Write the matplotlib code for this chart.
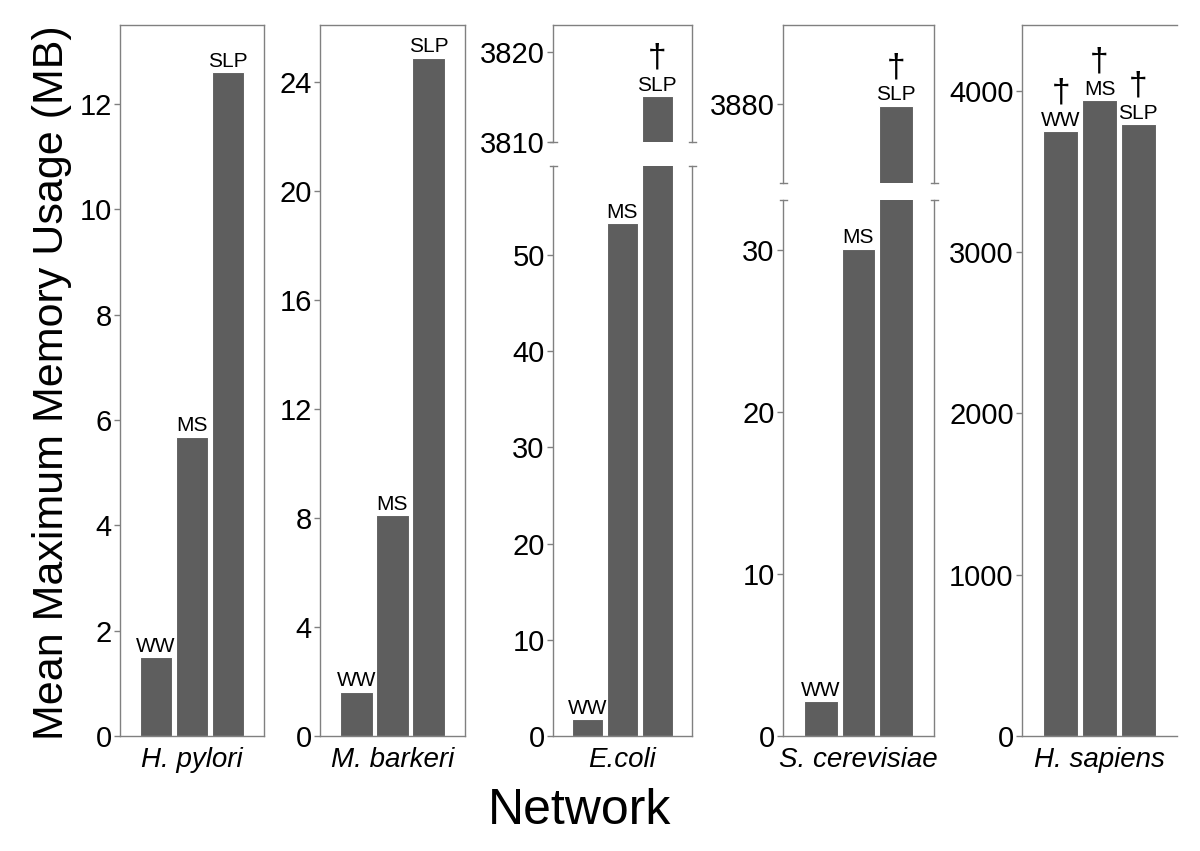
import matplotlib
matplotlib.use("Agg")
import matplotlib.pyplot as plt

plt.rcParams['font.family'] = ['Liberation Sans', 'DejaVu Sans']

# ---- data ----
networks = ["H. pylori", "M. barkeri", "E.coli", "S. cerevisiae", "H. sapiens"]
methods = ["WW", "MS", "SLP"]
hpylori = [1.5, 5.68, 12.6]
mbarkeri = [1.62, 8.1, 24.9]
ecoli = [1.75, 53.3, 3815.1]
scerevisiae = [2.15, 30.1, 3879.8]
hsapiens = [3752, 3944, 3795]

W, H = 1200, 851
fig = plt.figure(figsize=(W / 100, H / 100), dpi=100)

BAR = "#5e5e5e"
SPINE = "#808080"

def add_ax(x0, x1, ytop, ybot):
    return fig.add_axes([x0 / W, 1 - ybot / H, (x1 - x0) / W, (ybot - ytop) / H])

def style(ax, right=True, top=True, bottom=True):
    for s in ax.spines.values():
        s.set_color(SPINE)
        s.set_linewidth(1.0)
    ax.spines['right'].set_visible(right)
    ax.spines['top'].set_visible(top)
    ax.spines['bottom'].set_visible(bottom)
    ax.tick_params(axis='y', direction='out', length=4, width=1, color=SPINE,
                   labelsize=21, pad=2, labelcolor='black')
    ax.set_xticks([])
    ax.set_xlim(-1, 3)

def draw_bars(ax, vals):
    ax.bar(range(3), vals, width=0.9, color=BAR, edgecolor='white', linewidth=0.8)

def label(ax, i, v, text, dagger=False):
    ax.annotate(text, (i, v), xytext=(0, 1), textcoords='offset points',
                ha='center', va='bottom', fontsize=15, clip_on=False,
                annotation_clip=False)
    if dagger:
        ax.annotate("\u2020", (i, v), xytext=(0, 16), textcoords='offset points',
                    ha='center', va='bottom', fontsize=24,
                    annotation_clip=False)

def caps(ax, where):
    tr = ax.transAxes
    for xs in (0, 1):
        dx = 3.5 / (ax.get_position().width * W)
        ax.plot([xs - dx, xs + dx], [where, where], transform=tr, color=SPINE,
                lw=1.0, clip_on=False)

panels = [(120, 264), (320, 465), (553, 692), (783, 934), (1022, 1177)]
TOP, BOT = 25, 736

# Panel 1
ax = add_ax(*panels[0], TOP, BOT)
draw_bars(ax, hpylori)
ax.set_ylim(0, 13.5)
ax.set_yticks([0, 2, 4, 6, 8, 10, 12])
style(ax)
for i, m in enumerate(methods):
    label(ax, i, hpylori[i], m)

# Panel 2
ax = add_ax(*panels[1], TOP, BOT)
draw_bars(ax, mbarkeri)
ax.set_ylim(0, 26.1)
ax.set_yticks([0, 4, 8, 12, 16, 20, 24])
style(ax)
for i, m in enumerate(methods):
    label(ax, i, mbarkeri[i], m)

# Panel 3 (broken)
axu = add_ax(*panels[2], TOP, 142)
axl = add_ax(*panels[2], 166, BOT)
draw_bars(axu, ecoli)
draw_bars(axl, ecoli)
axu.set_ylim(3810, 3823)
axu.set_yticks([3810, 3820])
axl.set_ylim(0, 59.25)
axl.set_yticks([0, 10, 20, 30, 40, 50])
style(axu, bottom=False)
style(axl, top=False)
caps(axu, 0)
caps(axl, 1)
label(axl, 0, ecoli[0], "WW")
label(axl, 1, ecoli[1], "MS")
label(axu, 2, ecoli[2], "SLP", dagger=True)

# Panel 4 (broken)
axu = add_ax(*panels[3], TOP, 183)
axl = add_ax(*panels[3], 200, BOT)
draw_bars(axu, scerevisiae)
draw_bars(axl, scerevisiae)
axu.set_ylim(3870, 3890)
axu.set_yticks([3880])
axl.set_ylim(0, 33.1)
axl.set_yticks([0, 10, 20, 30])
style(axu, bottom=False)
style(axl, top=False)
caps(axu, 0)
caps(axl, 1)
label(axl, 0, scerevisiae[0], "WW")
label(axl, 1, scerevisiae[1], "MS")
label(axu, 2, scerevisiae[2], "SLP", dagger=True)

# Panel 5
ax = add_ax(*panels[4], TOP, BOT)
draw_bars(ax, hsapiens)
ax.set_ylim(0, 4409)
ax.set_yticks([0, 1000, 2000, 3000, 4000])
style(ax, right=False)
for i, m in enumerate(methods):
    label(ax, i, hsapiens[i], m, dagger=True)

# Category labels
for (x0, x1), name in zip(panels, networks):
    fig.text((x0 + x1) / 2 / W, 1 - 767 / H, name, ha='center', va='baseline',
             fontsize=20, style='italic')

fig.text(580 / W, 1 - 824 / H, "Network", ha='center', va='baseline', fontsize=36)
fig.text(52 / W, 1 - 383 / H, "Mean Maximum Memory Usage (MB)", rotation=90,
         ha='center', va='center', fontsize=31)

fig.savefig("out.png", dpi=100)
